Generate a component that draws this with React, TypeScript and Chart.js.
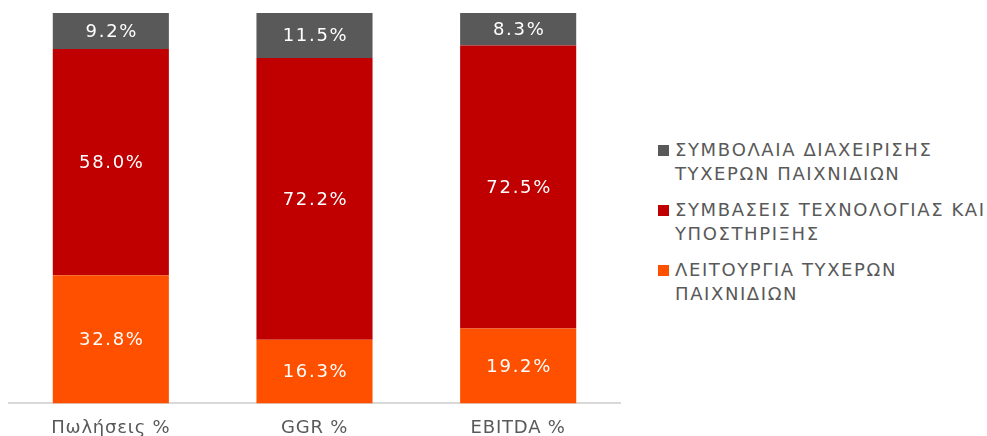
import React, { useEffect, useRef } from "react";
import { Chart, registerables } from "chart.js";
Chart.register(...registerables);

const categories = ["Πωλήσεις %", "GGR %", "EBITDA %"];
const operationValues = [32.8, 16.3, 19.2];
const techValues = [58.0, 72.2, 72.5];
const contractValues = [9.2, 11.5, 8.3];
const seriesNames = [
  ["ΣΥΜΒΟΛΑΙΑ ΔΙΑΧΕΙΡΙΣΗΣ", "ΤΥΧΕΡΩΝ ΠΑΙΧΝΙΔΙΩΝ"],
  ["ΣΥΜΒΑΣΕΙΣ ΤΕΧΝΟΛΟΓΙΑΣ ΚΑΙ", "ΥΠΟΣΤΗΡΙΞΗΣ"],
  ["ΛΕΙΤΟΥΡΓΙΑ ΤΥΧΕΡΩΝ", "ΠΑΙΧΝΙΔΙΩΝ"],
];
const colors = ["#595959", "#C00000", "#FF5000"];

const FONT = "'DejaVu Sans', Verdana, sans-serif";

const spacingPlugin = {
  id: "spacing",
  beforeDraw(chart: any) {
    try { (chart.ctx as any).letterSpacing = "0.8px"; } catch (e) {}
  },
};

const labelPlugin = {
  id: "segLabels",
  afterDatasetsDraw(chart: any) {
    const ctx = chart.ctx;
    ctx.save();
    ctx.fillStyle = "#ffffff";
    ctx.font = `18px ${FONT}`;
    ctx.textAlign = "center";
    ctx.textBaseline = "middle";
    try { (ctx as any).letterSpacing = "1.7px"; } catch (e) {}
    chart.data.datasets.forEach((ds: any, i: number) => {
      const meta = chart.getDatasetMeta(i);
      meta.data.forEach((el: any, j: number) => {
        const v = ds.data[j];
        const y = (el.y + el.base) / 2;
        ctx.fillText(v.toFixed(1) + "%", el.x + 1, y + 1);
      });
    });
    ctx.restore();
  },
};

export default function App() {
  const ref = useRef<HTMLCanvasElement>(null);
  useEffect(() => {
    const chart = new Chart(ref.current as HTMLCanvasElement, {
      type: "bar",
      data: {
        labels: categories,
        datasets: [
          { label: seriesNames[2].join(" "), data: operationValues, backgroundColor: colors[2] },
          { label: seriesNames[1].join(" "), data: techValues, backgroundColor: colors[1] },
          { label: seriesNames[0].join(" "), data: contractValues, backgroundColor: colors[0] },
        ],
      },
      options: {
        responsive: false,
        animation: false,
        devicePixelRatio: 1,
        layout: { padding: { left: 9, right: 20, top: 13, bottom: 0 } },
        plugins: { legend: { display: false }, tooltip: { enabled: false } },
        datasets: { bar: { barPercentage: 1, categoryPercentage: 0.57 } } as any,
        scales: {
          x: {
            stacked: true,
            grid: { display: false, drawTicks: false },
            border: { display: true, color: "#D9D9D9", width: 2 },
            ticks: { color: "#595959", font: { size: 18, family: FONT }, padding: 14 },
          },
          y: { stacked: true, display: false, min: 0, max: 100 },
        },
      },
      plugins: [spacingPlugin, labelPlugin],
    });
    return () => chart.destroy();
  }, []);

  return (
    <div style={{ position: "fixed", left: 0, top: 0, width: 987, height: 436, background: "#fff", overflow: "hidden" }}>
      <canvas ref={ref} width={640} height={453} style={{ position: "absolute", left: 0, top: 0 }} />
      <div style={{ position: "absolute", left: 658, top: 138, fontFamily: FONT, fontSize: 18, color: "#595959", lineHeight: "24px", letterSpacing: "1.6px" }}>
        {seriesNames.map((lines, i) => (
          <div key={i} style={{ position: "relative", paddingLeft: 17, marginBottom: 12 }}>
            <span style={{ position: "absolute", left: 0, top: 7, width: 11, height: 11, background: colors[i] }} />
            {lines.map((l, k) => (
              <div key={k} style={{ whiteSpace: "nowrap" }}>{l}</div>
            ))}
          </div>
        ))}
      </div>
    </div>
  );
}
